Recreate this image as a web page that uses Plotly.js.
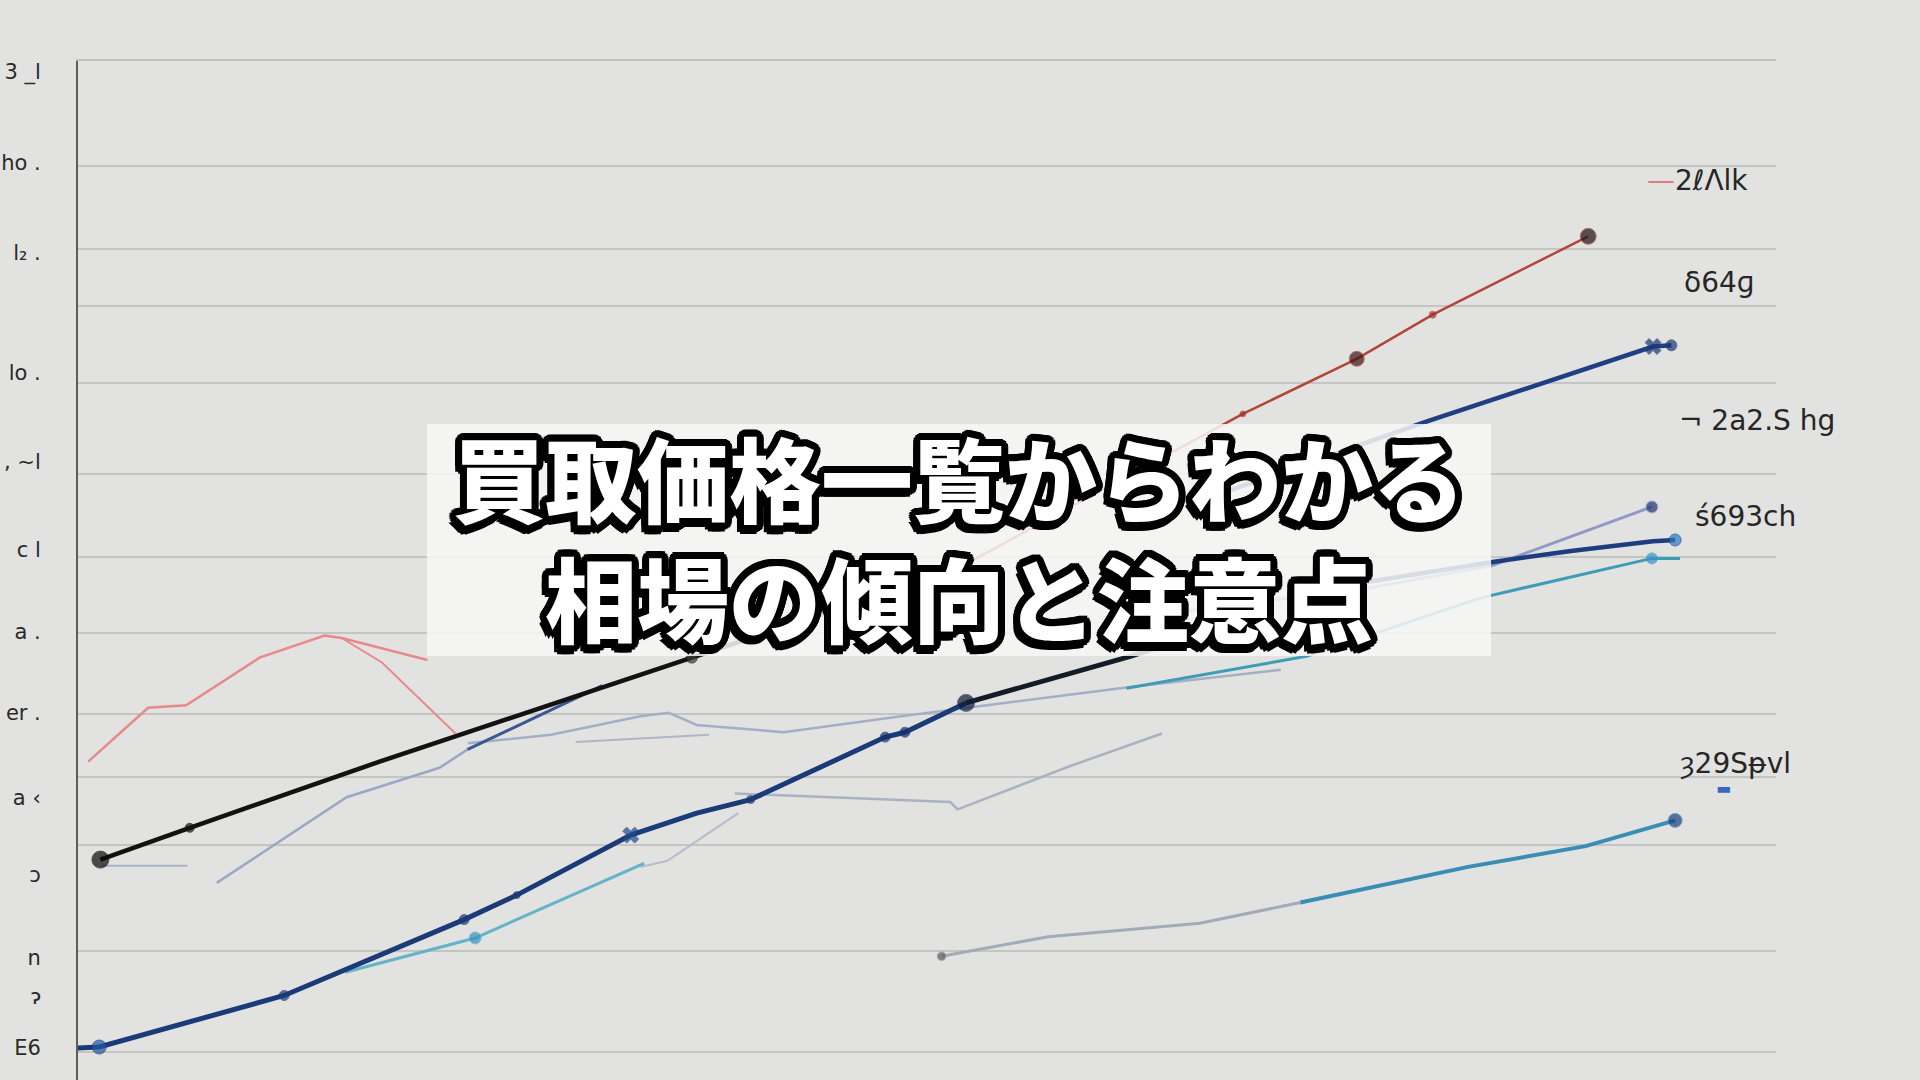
<!DOCTYPE html>
<html>
<head>
<meta charset="utf-8">
<script src="https://cdn.plot.ly/plotly-3.0.1.min.js"></script>
<style>
  html, body { margin: 0; padding: 0; background: #e2e2e0; }
  #chart { width: 1920px; height: 1080px; }
</style>
</head>
<body>
<div id="chart"></div>
<script>
// ---------- data (x: 0-100 span of the axis, y: 0-101.8) ----------
const blackX = [1.32, 6.58, 17.76, 36.15, 45.89];
const blackY = [22.04, 25.22, 31.84, 42.24, 47.75];

const pinkX = [0.6, 4.13, 6.37, 10.69, 14.52, 15.53, 20.58];
const pinkY = [31.84, 37.22, 37.47, 42.24, 44.45, 44.2, 42.0];
const pinkBranchX = [15.53, 17.9, 22.23];
const pinkBranchY = [44.2, 41.75, 34.65];

const redX = [52.36, 68.6, 75.31, 79.78, 88.94];
const redY = [51.67, 66.61, 72.12, 76.53, 84.37];

const navyX = [-0.12, 1.25, 12.14, 22.74, 25.84, 32.55, 36.44, 39.61, 47.54, 48.7, 52.3];
const navyY = [3.18, 3.3, 8.45, 16.04, 18.49, 24.49, 26.69, 28.04, 34.29, 34.77, 37.71];
const navyTailX = [52.3, 61.97, 67.52];
const navyTailY = [37.71, 42.37, 45.43];

const navyUpX = [67.52, 74.08, 79.49, 92.76, 93.84];
const navyUpY = [58.78, 62.69, 65.88, 73.35, 73.47];

const lavX = [64.64, 76.53, 83.24, 92.69];
const lavY = [46.78, 49.35, 51.43, 57.31];

const navy2X = [74.73, 83.31, 87.92, 92.76, 94.06];
const navy2Y = [49.47, 51.8, 52.9, 53.88, 54.0];

const tealX = [61.75, 72.35, 82.67, 92.69, 94.35];
const tealY = [39.18, 42.37, 48.24, 52.16, 52.16];

const steelX = [8.17, 15.82, 21.29, 22.95, 28.72, 30.88];
const steelY = [19.71, 28.28, 31.22, 33.06, 37.71, 39.43];
const steelDarkX = [22.95, 28.72, 30.88];
const steelDarkY = [33.06, 37.71, 39.43];

const grayMidX = [22.95, 27.86, 33.12, 34.78, 36.44, 41.56, 48.48, 53.1, 61.97, 70.84];
const grayMidY = [33.67, 34.53, 36.37, 36.73, 35.51, 34.78, 36.37, 37.35, 39.3, 41.02];
const grayLoopX = [29.31, 33.12, 37.16];
const grayLoopY = [33.8, 34.16, 34.53];

const grayLowX = [38.68, 45.89, 51.37, 51.8, 58.36, 63.84];
const grayLowY = [28.65, 28.16, 27.8, 27.06, 31.35, 34.65];
const grayRiseX = [33.12, 34.71, 38.89];
const grayRiseY = [21.31, 21.92, 26.69];
const grayShortX = [1.4, 6.44];
const grayShortY = [21.43, 21.43];

const bottomGrayX = [50.86, 57.14, 66.08, 71.99];
const bottomGrayY = [12.37, 14.33, 15.67, 17.75];
const bottomTealX = [71.99, 81.87, 88.79, 94.06];
const bottomTealY = [17.75, 21.31, 23.39, 25.96];

const lightTealX = [15.74, 23.39, 33.34];
const lightTealY = [10.77, 14.2, 21.67];

// axis ticks
const labelVals = [100.8, 91.7, 82.7, 70.7, 61.8, 53.0, 44.8, 36.7, 28.2, 20.5, 12.2, 8.3, 3.2];
const labelTexts = ["3 _l", "ho .", "l\u2082 .", "lo .", ", \u223Cl", "c l", "a .", "er .", "a \u2039", "\u0254", "n", "\u0242", "E6"];
const gridVals = [91.4, 83.1, 77.4, 69.7, 60.6, 52.3, 44.7, 36.6, 30.3, 23.5, 12.9, 2.8];

// right-side series labels
const seriesLabels = ["2\u2113\u039Blk", "\u03B464\u0261", "\u00AC 2a2.S hg", "\u015B693ch", "\u021D29S\u1D7Dvl"];
const seriesLabelX = [92.3, 94.46, 94.17, 95.1, 94.2];
const seriesLabelY = [90.0, 79.8, 66.0, 56.4, 31.7];

const titleLines = ["買取価格一覧からわかる", "相場の傾向と注意点"];

// ---------- traces ----------
function line(x, y, color, width, extra) {
  return Object.assign({
    type: 'scatter', mode: 'lines', x: x, y: y,
    line: { color: color, width: width, shape: 'linear' },
    hoverinfo: 'skip', showlegend: false, cliponaxis: false
  }, extra || {});
}

const traces = [
  line(grayShortX, grayShortY, '#a7b3c6', 2),
  line(grayRiseX, grayRiseY, '#b5bccb', 2),
  line(grayLowX, grayLowY, '#aab2c1', 2.5),
  line(grayLoopX, grayLoopY, '#aeb6c6', 2),
  line(grayMidX, grayMidY, '#a4afc5', 2.5),
  line(steelX, steelY, '#9aa8c6', 2.5),
  line(steelDarkX, steelDarkY, '#3c5894', 3),
  line(pinkX, pinkY, '#e8898b', 2.5),
  line(pinkBranchX, pinkBranchY, '#e8898b', 2),
  line(lightTealX, lightTealY, '#63b3c9', 3, {
    mode: 'lines+markers',
    marker: { size: [0, 12, 0], color: '#3b8fc4' }
  }),
  line(bottomGrayX, bottomGrayY, '#a3abb8', 3, {
    mode: 'lines+markers',
    marker: { size: [9, 0, 0, 0], color: '#5c5c5c' }
  }),
  line(bottomTealX, bottomTealY, '#3a8db3', 4, {
    mode: 'lines+markers',
    marker: { size: [0, 0, 0, 14], color: '#1d3f85' }
  }),
  line(lavX, lavY, '#8f98c8', 3, {
    mode: 'lines+markers',
    marker: { size: [0, 0, 0, 12], color: '#1f3272' }
  }),
  line(tealX, tealY, '#3d9db6', 3, {
    mode: 'lines+markers',
    marker: { size: [0, 0, 0, 11, 0], color: '#3495cc' }
  }),
  line(navy2X, navy2Y, '#1d3d80', 4.5, {
    mode: 'lines+markers',
    marker: { size: [0, 0, 0, 0, 12], color: '#2a7cc0' }
  }),
  line(navyUpX, navyUpY, '#1f3f82', 4.5, {
    mode: 'lines+markers',
    marker: { size: [0, 0, 0, 14, 11], color: '#1b3470',
              symbol: ['circle', 'circle', 'circle', 'x', 'circle'] }
  }),
  line(navyTailX, navyTailY, '#141a26', 5),
  line(navyX, navyY, '#1b3a78', 5, {
    mode: 'lines+markers',
    marker: { size: [19, 14, 10, 10, 7, 14, 0, 8, 10, 10, 17],
              color: ['#0a1732', '#1f5aa3', '#1b3a78', '#1b3a78', '#1b3a78', '#1c4c8f',
                      '#1b3a78', '#1b3a78', '#15306a', '#15306a', '#0e1a33'],
              symbol: ['circle', 'circle', 'circle', 'circle', 'circle', 'x',
                       'circle', 'circle', 'circle', 'circle', 'circle'] }
  }),
  line(blackX, blackY, '#121212', 4.5, {
    mode: 'lines+markers',
    marker: { size: [17, 9, 0, 11, 0], color: ['#0a0a0a', '#111', '#111', '#3a3a3a', '#111'] }
  }),
  line(redX, redY, '#b4453a', 2.5, {
    mode: 'lines+markers',
    marker: { size: [0, 6, 15, 7, 16], color: ['#b4453a', '#9a2c22', '#3b1412', '#a0302a', '#1c1212'] }
  })
];

// ---------- annotations ----------
// thick black outline for the white title text, built from offset shadows
const outlineParts = [];
for (let a = 0; a < 360; a += 15) {
  const r = Math.PI * a / 180;
  outlineParts.push((7 * Math.cos(r)).toFixed(1) + 'px ' + (7 * Math.sin(r)).toFixed(1) + 'px 0 #000');
}
outlineParts.push('-4px 9px 0 #000', '0 9px 0 #000', '-7px 7px 0 #000');
const outline = outlineParts.join(', ');

const annotations = [{
  x: 51.9, y: 54.5, xref: 'x', yref: 'y',
  text: titleLines.join('<br>'),
  showarrow: false, xanchor: 'center', yanchor: 'middle', align: 'center',
  font: { family: '"Noto Sans CJK JP", "Noto Sans", sans-serif', size: 92, weight: 900,
          color: '#ffffff', shadow: outline }
}];

seriesLabels.forEach((t, i) => {
  annotations.push({
    x: seriesLabelX[i], y: seriesLabelY[i], xref: 'x', yref: 'y',
    text: i === 0 ? '<span style="color:#d98080">\u2014</span>' + t : t,
    showarrow: false, xanchor: 'left', yanchor: 'middle',
    font: { family: '"DejaVu Sans", sans-serif', size: 28, color: '#262626' }
  });
});
annotations.push({
  x: 96.9, y: 29.2, xref: 'x', yref: 'y', text: '\u25AC', showarrow: false,
  font: { family: '"DejaVu Sans", sans-serif', size: 16, color: '#3a66c0' }
});

// ---------- layout ----------
const layout = {
  width: 1920, height: 1080,
  margin: { l: 78, r: 144, t: 61, b: 0, pad: 0 },
  paper_bgcolor: '#e2e2e0', plot_bgcolor: '#e2e2e0',
  showlegend: false,
  xaxis: {
    range: [0, 100], showgrid: false, zeroline: false,
    side: 'top', showline: true, linecolor: '#c0c0bf', linewidth: 2,
    showticklabels: false, ticks: ''
  },
  yaxis: {
    range: [0, 101.9], zeroline: false,
    showline: true, linecolor: '#5c5c5c', linewidth: 2,
    showgrid: false, tickmode: 'array', tickvals: labelVals, ticktext: labelTexts,
    ticks: '', ticklabelstandoff: 31,
    tickfont: { family: '"DejaVu Sans", sans-serif', size: 21, color: '#2a2a2a' },
    minor: { tickmode: 'array', tickvals: gridVals, showgrid: true,
             gridcolor: '#c4c4c3', gridwidth: 2, ticks: '' }
  },
  shapes: [{
    type: 'rect', xref: 'x', yref: 'y', x0: 20.55, x1: 83.22, y0: 42.4, y1: 65.6,
    fillcolor: 'rgba(247,247,246,0.86)', line: { width: 0 }, layer: 'above'
  }],
  annotations: annotations
};

Plotly.newPlot('chart', traces, layout, { displayModeBar: false, staticPlot: true });
</script>
</body>
</html>
